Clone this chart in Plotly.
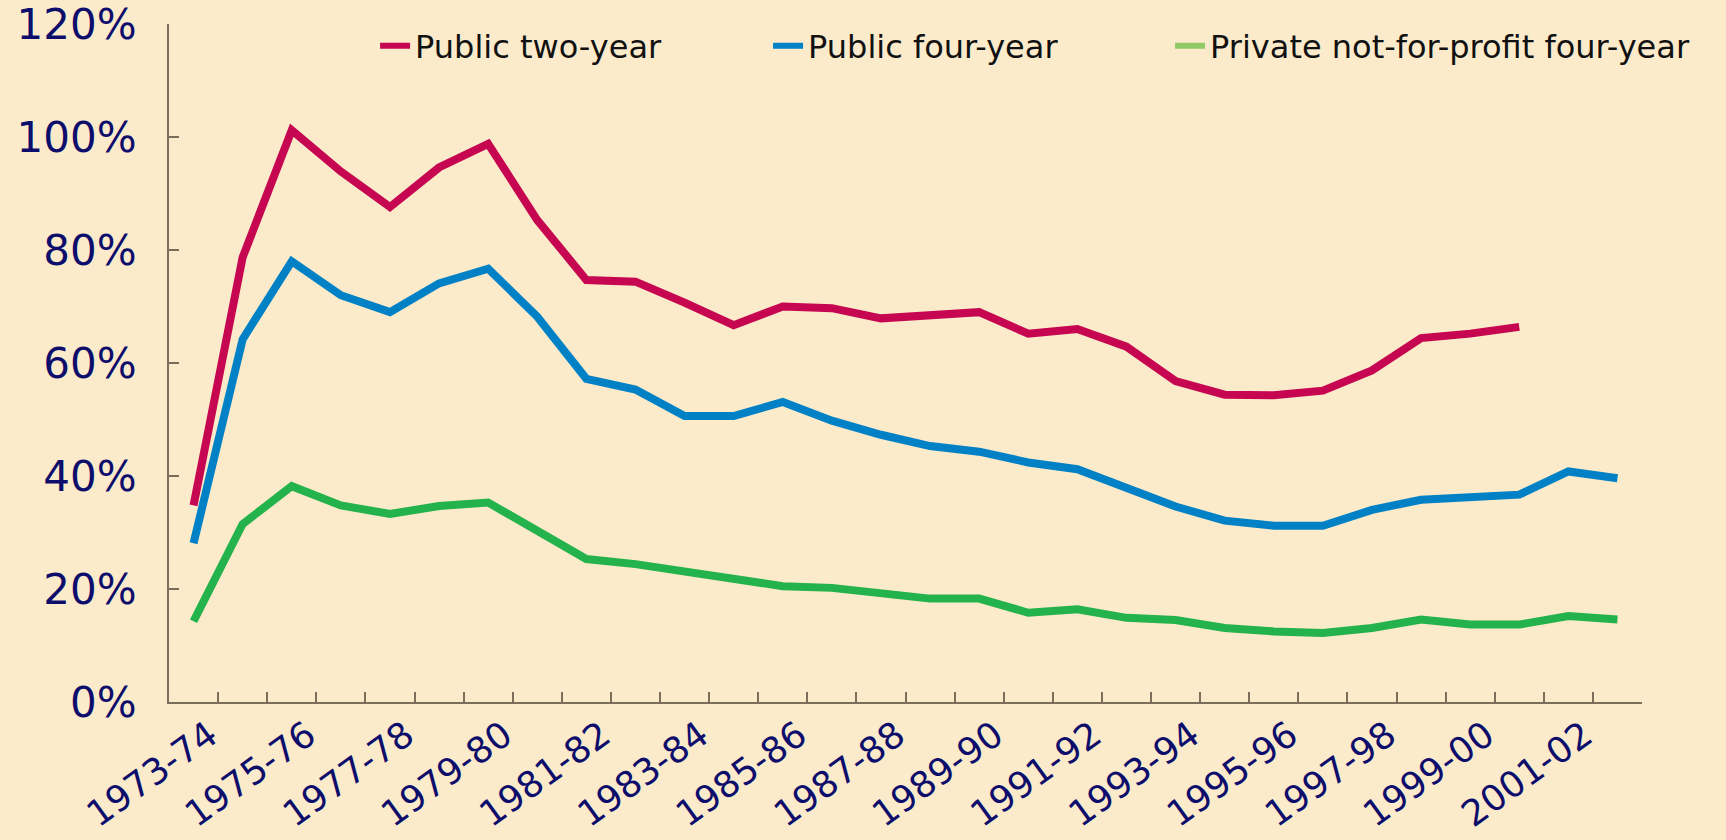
import plotly.graph_objects as go

categories = ["1973-74", "1974-75", "1975-76", "1976-77", "1977-78", "1978-79", "1979-80",
              "1980-81", "1981-82", "1982-83", "1983-84", "1984-85", "1985-86", "1986-87",
              "1987-88", "1988-89", "1989-90", "1990-91", "1991-92", "1992-93", "1993-94",
              "1994-95", "1995-96", "1996-97", "1997-98", "1998-99", "1999-00", "2000-01",
              "2001-02", "2002-03"]

public_two_year = [34.8, 78.7, 101.2, 93.9, 87.6, 94.6, 98.8, 85.3, 74.7, 74.4,
                   70.7, 66.7, 70.0, 69.7, 67.9, 68.4, 69.0, 65.2, 66.0, 62.9,
                   56.8, 54.4, 54.3, 55.1, 58.7, 64.4, 65.2, 66.4, None, None]

public_four_year = [28.1, 64.2, 78.0, 72.0, 69.0, 74.1, 76.7, 68.2, 57.2, 55.3,
                    50.6, 50.6, 53.1, 49.8, 47.3, 45.3, 44.3, 42.4, 41.2, 38.0,
                    34.6, 32.1, 31.2, 31.2, 34.0, 35.8, 36.4, 36.7, 40.8, 39.6]

private_nfp_four_year = [14.3, 31.5, 38.2, 34.8, 33.3, 34.7, 35.3, 30.5, 25.3, 24.4,
                         23.0, 21.8, 20.5, 20.2, 19.3, 18.3, 18.3, 15.8, 16.4, 14.9,
                         14.5, 13.1, 12.5, 12.2, 13.1, 14.6, 13.7, 13.7, 15.2, 14.6]

series_names = ["Public two-year", "Public four-year", "Private not-for-profit four-year"]
line_colors = ["#C60651", "#0081C6", "#23B24B"]
legend_colors = ["#C60651", "#0081C6", "#92C967"]
legend_ids = ["legend", "legend2", "legend3"]
legend_x = [0.1399, 0.4067, 0.6796]

tick_text = [c if i % 2 == 0 else "" for i, c in enumerate(categories)]

FONT = "DejaVu Sans, Liberation Sans, sans-serif"
NAVY = "#0D0D6B"
AXIS = "#7A6E5A"
BG = "#FBEBCB"

fig = go.Figure()
for name, vals, col in zip(series_names,
                           [public_two_year, public_four_year, private_nfp_four_year],
                           line_colors):
    fig.add_trace(go.Scatter(x=categories, y=vals, mode="lines", name=name,
                             line=dict(color=col, width=8), showlegend=False,
                             hoverinfo="x+y+name"))

# legend entries (legend sample colours differ slightly from plotted lines)
for name, col, lid in zip(series_names, legend_colors, legend_ids):
    fig.add_trace(go.Scatter(x=[None], y=[None], mode="lines", name=name,
                             line=dict(color=col, width=6), showlegend=True, legend=lid))

legend_style = dict(orientation="h", xanchor="left", y=0.9676, yanchor="middle",
                    bgcolor="rgba(0,0,0,0)", font=dict(size=32, color="#111111", family=FONT),
                    itemwidth=30)

fig.update_layout(
    width=1726, height=840,
    margin=dict(l=169, r=84, t=24, b=138),
    paper_bgcolor=BG, plot_bgcolor=BG,
    font=dict(family=FONT, color="#111111"),
    legend=dict(x=legend_x[0], **legend_style),
    legend2=dict(x=legend_x[1], **legend_style),
    legend3=dict(x=legend_x[2], **legend_style),
    xaxis=dict(
        type="category", categoryorder="array", categoryarray=categories,
        tickmode="array", tickvals=categories, ticktext=tick_text,
        tickson="boundaries", ticks="inside", ticklen=10, tickcolor=AXIS, tickwidth=1.5,
        showline=True, linecolor=AXIS, linewidth=2, showgrid=False, zeroline=False,
        tickangle=-36, tickfont=dict(size=36, color=NAVY, family=FONT),
        range=[-0.5, 29.5], ticklabelstandoff=-4, ticklabelshift=16, automargin=False,
    ),
    yaxis=dict(
        range=[0, 120], tickmode="linear", tick0=0, dtick=20, ticksuffix="%",
        ticks="inside", ticklen=10, tickcolor=AXIS, tickwidth=1.5,
        showline=True, linecolor=AXIS, linewidth=2, showgrid=False, zeroline=False,
        tickfont=dict(size=42, color=NAVY, family=FONT), ticklabelstandoff=22,
        ticklabeloverflow="allow", automargin=False,
    ),
)

fig.write_html("out.html", config={"displayModeBar": False},
               post_script="document.body.style.margin='0';")
